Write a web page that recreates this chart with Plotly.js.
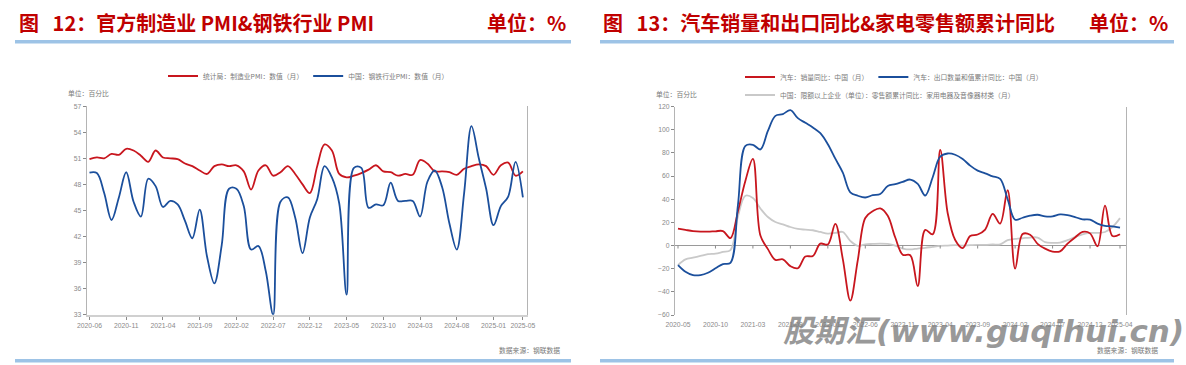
<!DOCTYPE html>
<html>
<head>
<meta charset="utf-8">
<script src="https://cdn.plot.ly/plotly-3.0.1.min.js"></script>
<style>html,body{margin:0;padding:0;background:#fff;}#chart{width:1186px;height:365px;}</style>
</head>
<body>
<div id="chart"></div>
<script>
// ---------- DATA ----------
const monthsLeft = ["2020-06","2020-07","2020-08","2020-09","2020-10","2020-11","2020-12",
"2021-01","2021-02","2021-03","2021-04","2021-05","2021-06","2021-07","2021-08","2021-09","2021-10","2021-11","2021-12",
"2022-01","2022-02","2022-03","2022-04","2022-05","2022-06","2022-07","2022-08","2022-09","2022-10","2022-11","2022-12",
"2023-01","2023-02","2023-03","2023-04","2023-05","2023-06","2023-07","2023-08","2023-09","2023-10","2023-11","2023-12",
"2024-01","2024-02","2024-03","2024-04","2024-05","2024-06","2024-07","2024-08","2024-09","2024-10","2024-11","2024-12",
"2025-01","2025-02","2025-03","2025-04","2025-05"];
const ticksLeft = ["2020-06","2020-11","2021-04","2021-09","2022-02","2022-07","2022-12","2023-05","2023-10","2024-03","2024-08","2025-01","2025-05"];
const pmiManufacturing = [50.9,51.1,51.0,51.5,51.4,52.1,51.9,
51.3,50.6,51.9,51.1,51.0,50.9,50.4,50.1,49.6,49.2,50.1,50.3,
50.1,50.2,49.5,47.4,49.6,50.2,49.0,49.4,50.1,49.2,48.0,47.0,
50.1,52.6,51.9,49.2,48.8,49.0,49.3,49.7,50.2,49.5,49.4,49.0,
49.2,49.1,50.8,50.4,49.5,49.5,49.4,49.1,49.8,50.1,50.3,50.1,
49.1,50.2,50.5,49.0,49.5];
const pmiSteel = [49.35,49.3,47.0,43.9,46.5,49.4,46.0,
44.3,48.65,47.8,45.4,46.1,45.7,43.8,41.8,45.1,39.7,36.6,41.0,
47.5,47.5,45.5,40.5,40.9,38.0,33.0,46.0,46.5,44.2,40.1,44.2,
46.3,50.1,48.8,45.8,35.3,49.9,49.9,45.3,45.7,45.6,48.2,46.1,
46.1,46.1,44.3,48.3,49.6,47.7,43.5,40.5,47.0,54.7,51.0,47.5,
43.3,45.5,46.6,50.6,46.5];
const legendLeft = ["统计局：制造业PMI：数值（月）","中国：钢铁行业PMI：数值（月）"];

const monthsRight = ["2020-05","2020-06","2020-07","2020-08","2020-09","2020-10","2020-11","2020-12",
"2021-01","2021-02","2021-03","2021-04","2021-05","2021-06","2021-07","2021-08","2021-09","2021-10","2021-11","2021-12",
"2022-01","2022-02","2022-03","2022-04","2022-05","2022-06","2022-07","2022-08","2022-09","2022-10","2022-11","2022-12",
"2023-01","2023-02","2023-03","2023-04","2023-05","2023-06","2023-07","2023-08","2023-09","2023-10","2023-11","2023-12",
"2024-01","2024-02","2024-03","2024-04","2024-05","2024-06","2024-07","2024-08","2024-09","2024-10","2024-11","2024-12",
"2025-01","2025-02","2025-03","2025-04"];
const ticksRight = ["2020-05","2020-10","2021-03","2021-08","2022-01","2022-06","2022-11","2023-04","2023-09","2024-02","2024-07","2024-12","2025-04"];
const carSalesYoY = [14.6,13.5,12.5,12.0,12.0,12.3,12.5,6.4,
29.5,56.0,74.9,8.6,-3.1,-12.4,-11.9,-17.8,-19.6,-9.4,-9.1,1.6,
0.9,18.7,-11.7,-47.6,-12.6,23.8,29.7,32.1,25.7,6.9,-7.9,-8.4,
-35.0,13.5,9.7,82.7,27.9,4.8,-2.2,8.2,9.5,13.8,27.4,19.0,
47.9,-19.9,9.9,9.3,1.5,-2.7,-5.2,-5.0,1.7,7.0,11.7,10.5,
-0.6,34.4,8.2,9.8];
const carExportCumYoY = [-16.9,-22.6,-25.5,-25.5,-23.5,-19.7,-16.0,-14.9,
35.0,86.0,87.0,83.0,99.0,112.0,113.5,117.0,110.0,106.0,102.0,97.0,
87.5,75.0,63.0,46.0,43.0,41.5,43.5,44.5,51.5,53.0,55.0,57.0,
53.2,43.2,59.0,76.7,79.5,78.4,74.7,69.0,64.7,62.4,59.8,57.5,
40.0,22.3,24.0,25.8,26.6,25.2,25.2,26.9,26.3,24.6,22.6,22.3,
18.9,16.9,16.6,15.5];
const applianceRetailCumYoY = [-17.0,-12.0,-10.5,-9.0,-7.5,-7.0,-5.5,-4.0,
25.0,43.0,41.0,32.0,24.6,20.3,18.3,16.0,14.3,13.7,13.2,11.7,
10.3,10.9,11.7,4.0,-0.3,1.0,1.4,1.7,1.4,0.0,-2.6,-3.4,
-2.6,-2.0,-1.1,-0.3,0.0,0.3,0.0,0.3,0.6,0.6,0.9,1.1,
4.6,5.7,6.3,6.9,6.9,2.9,2.3,2.6,4.6,7.4,9.7,10.9,
10.9,11.7,16.0,23.7];
const legendRight = ["汽车：销量同比：中国（月）","汽车：出口数量和值累计同比：中国（月）","中国：限额以上企业（单位）：零售额累计同比：家用电器及音像器材类（月）"];

// ---------- LAYOUT HELPERS ----------
const W = 1186, H = 365;
const px = x => x / W;
const py = y => 1 - y / H;
const RED = '#C8161E', BLUE = '#1B4F9C', GRAY = '#C9C9C9';
const CJK = '"Noto Sans CJK SC", sans-serif';
const NUM = '"Liberation Sans", Arial, sans-serif';
const lineBase = {shape:'spline', smoothing:1, width:1.8};

const traces = [
  {x: monthsLeft, y: pmiManufacturing, name: legendLeft[0], type:'scatter', mode:'lines', line:Object.assign({color:RED}, lineBase), xaxis:'x', yaxis:'y', legend:'legend'},
  {x: monthsLeft, y: pmiSteel, name: legendLeft[1], type:'scatter', mode:'lines', line:Object.assign({color:BLUE}, lineBase), xaxis:'x', yaxis:'y', legend:'legend'},
  {x: monthsRight, y: applianceRetailCumYoY, name: legendRight[2], type:'scatter', mode:'lines', line:Object.assign({color:GRAY}, lineBase), xaxis:'x2', yaxis:'y2', legend:'legend3'},
  {x: monthsRight, y: carSalesYoY, name: legendRight[0], type:'scatter', mode:'lines', line:Object.assign({color:RED}, lineBase), xaxis:'x2', yaxis:'y2', legend:'legend2'},
  {x: monthsRight, y: carExportCumYoY, name: legendRight[1], type:'scatter', mode:'lines', line:Object.assign({color:BLUE}, lineBase), xaxis:'x2', yaxis:'y2', legend:'legend2'}
];

const tickFont = {family: NUM, size: 6.8, color: '#8a8a8a'};
const legFont = {family: CJK, size: 6.8, color: '#7a7a7a'};
const legBase = {orientation:'h', xanchor:'left', yanchor:'middle', bgcolor:'rgba(0,0,0,0)', borderwidth:0, font:legFont, itemwidth:30, traceorder:'normal'};

const shapes = [
  {type:'rect', xref:'paper', yref:'paper', x0:px(15), x1:px(571), y0:py(40), y1:py(43.5), fillcolor:'#9DC3E6', line:{width:0}},
  {type:'rect', xref:'paper', yref:'paper', x0:px(600), x1:px(1174), y0:py(40), y1:py(43.5), fillcolor:'#9DC3E6', line:{width:0}},
  {type:'rect', xref:'paper', yref:'paper', x0:px(15), x1:px(571), y0:py(359), y1:py(362.5), fillcolor:'#9DC3E6', line:{width:0}},
  {type:'rect', xref:'paper', yref:'paper', x0:px(600), x1:px(1174), y0:py(359), y1:py(362.5), fillcolor:'#9DC3E6', line:{width:0}}
];
// small tick marks sitting on the zero line of the right chart
ticksRight.forEach(t => {
  const i = monthsRight.indexOf(t);
  shapes.push({type:'line', xref:'x2', yref:'y2', ysizemode:'pixel', yanchor:0, x0:i, x1:i, y0:0, y1:-3, line:{color:'#8a8a8a', width:1}});
});

const ann = (x, y, text, opts) => Object.assign({xref:'paper', yref:'paper', x:px(x), y:py(y), text:text, showarrow:false, xanchor:'left', yanchor:'middle'}, opts);
const titleFont = {family: CJK, size: 20, color: '#C00000', weight: 'bold'};
const SP = '\u00A0\u00A0\u00A0';
const annotations = [
  ann(17, 23, '图' + SP + '12：官方制造业 PMI&钢铁行业 PMI', {font: titleFont}),
  ann(568, 23, '单位：%', {font: titleFont, xanchor:'right'}),
  ann(601, 23, '图' + SP + '13：汽车销量和出口同比&家电零售额累计同比', {font: titleFont}),
  ann(1170, 23, '单位：%', {font: titleFont, xanchor:'right'}),
  ann(66, 93, '单位：百分比', {font: legFont}),
  ann(654, 94, '单位：百分比', {font: legFont}),
  ann(562, 350, '数据来源：钢联数据', {font: legFont, xanchor:'right'}),
  ann(1160, 350, '数据来源：钢联数据', {font: legFont, xanchor:'right'}),
  ann(983, 331, '股期汇(www.guqihui.cn)', {xanchor:'center', font:{family:'"DejaVu Sans", "Noto Sans CJK SC", sans-serif', size:31, color:'rgba(125,125,125,0.78)', weight:'bold', style:'italic'}})
];

const layout = {
  width: W, height: H,
  margin: {l:0, r:0, t:0, b:0, pad:0},
  paper_bgcolor: '#ffffff', plot_bgcolor: 'rgba(0,0,0,0)',
  font: {family: NUM, size: 7, color: '#8a8a8a'},
  showlegend: true,
  xaxis: {domain:[px(86.7), px(527.3)], anchor:'y', type:'category', range:[-0.38, 59.6],
    tickmode:'array', tickvals:ticksLeft, ticktext:ticksLeft, showgrid:false, zeroline:false,
    showline:true, linecolor:'#d0d0d0', linewidth:2, ticks:'outside', ticklen:3, tickwidth:1, tickcolor:'#8a8a8a',
    tickfont:tickFont, tickangle:0, fixedrange:true},
  yaxis: {domain:[py(314.7), py(106.2)], anchor:'x', range:[33, 57], tickmode:'linear', tick0:33, dtick:3,
    showgrid:false, zeroline:false, showline:true, mirror:true, linecolor:'#b4b4b4', linewidth:1,
    ticks:'outside', ticklen:3, tickwidth:1, tickcolor:'#8a8a8a', tickfont:tickFont, fixedrange:true},
  xaxis2: {domain:[px(675), px(1126)], anchor:'y2', type:'category', range:[-0.4, 59.8],
    tickmode:'array', tickvals:ticksRight, ticktext:ticksRight, showgrid:false, zeroline:false,
    showline:false, ticks:'outside', ticklen:3, tickcolor:'rgba(0,0,0,0)', tickfont:tickFont, tickangle:0, fixedrange:true},
  yaxis2: {domain:[py(315), py(106.6)], anchor:'x2', range:[-60, 120], tickmode:'linear', tick0:-60, dtick:20,
    showgrid:false, zeroline:true, zerolinecolor:'#9a9a9a', zerolinewidth:1,
    showline:true, mirror:true, linecolor:'#b4b4b4', linewidth:1,
    ticks:'outside', ticklen:3, tickwidth:1, tickcolor:'#8a8a8a', tickfont:tickFont, fixedrange:true},
  legend: Object.assign({}, legBase, {x:px(163), y:py(76)}),
  legend2: Object.assign({}, legBase, {x:px(740), y:py(77)}),
  legend3: Object.assign({}, legBase, {x:px(740), y:py(95)}),
  shapes: shapes,
  annotations: annotations
};

Plotly.newPlot('chart', traces, layout, {staticPlot:true, displayModeBar:false});
</script>
</body>
</html>
